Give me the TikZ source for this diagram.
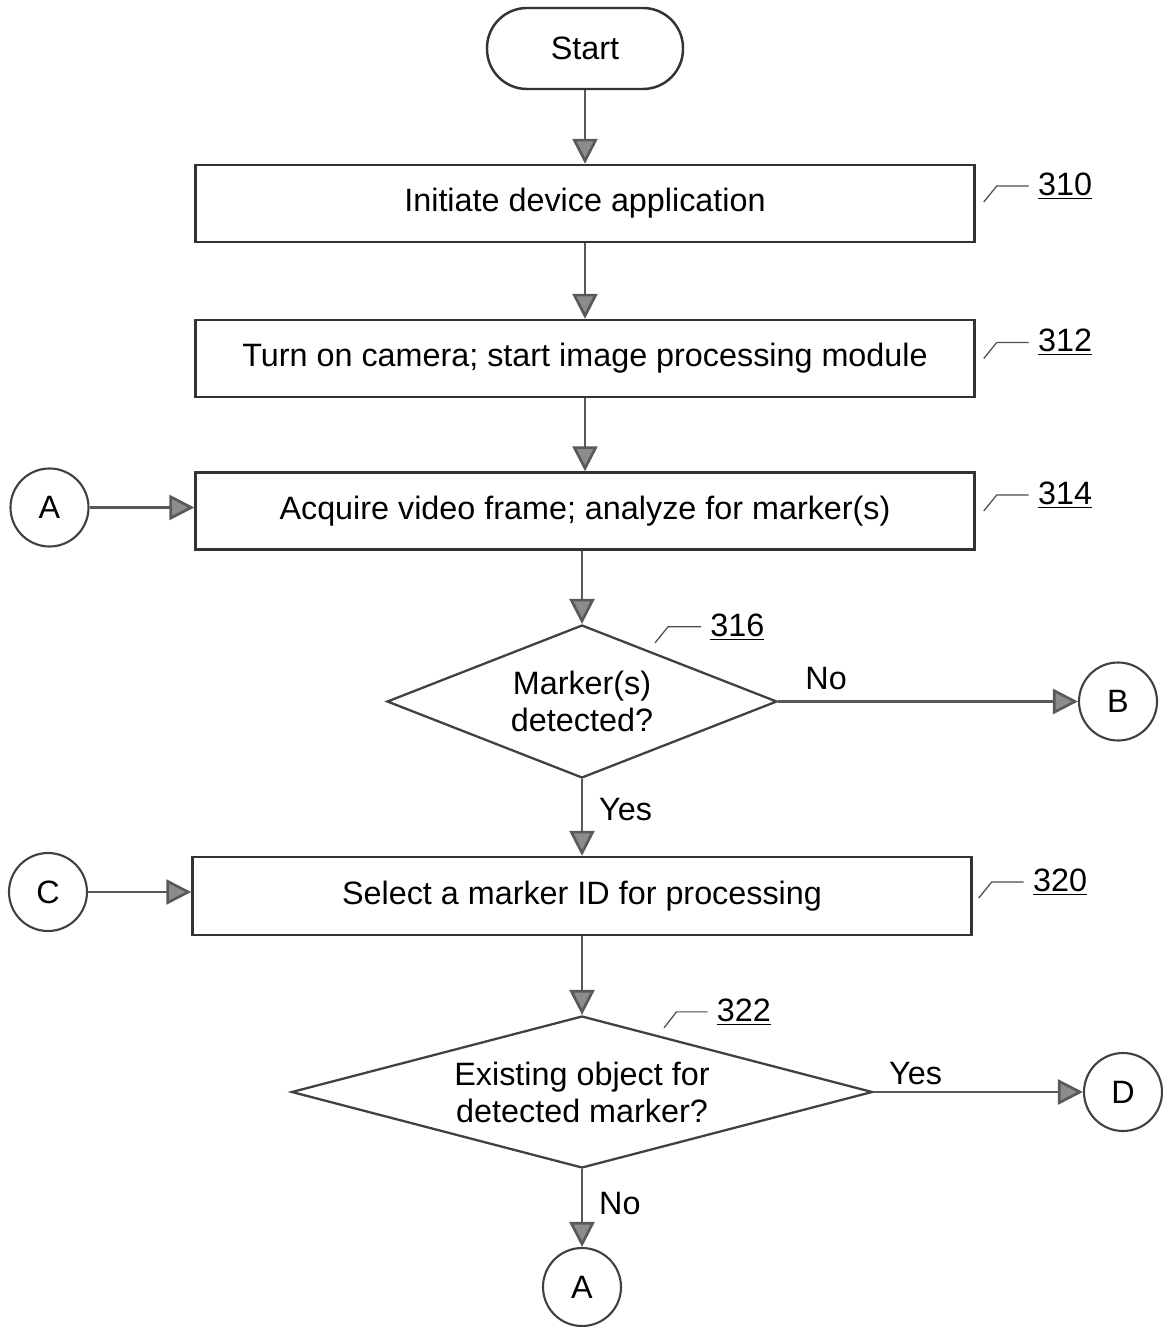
\documentclass[tikz,border=0pt]{standalone}
\usepackage{fontspec}
\setmainfont{Liberation Sans}
\usetikzlibrary{arrows.meta,shapes.geometric}
\begin{document}
\begin{tikzpicture}[
        font=\fontsize{18.4}{21}\selectfont,
        box/.style={draw=black!80,line width=1.4pt,minimum width=15.58cm,minimum height=1.54cm,inner sep=0pt},
        decision/.style={diamond,draw=black!75,line width=1.3pt,inner sep=0pt,align=center},
        conn/.style={circle,draw=black!75,line width=1.2pt,minimum size=1.56cm,inner sep=0pt},
        flow/.style={draw=black!65,line width=1.5pt,-{Triangle[length=0.5cm,width=0.5cm,fill=black!45]}},
        leader/.style={draw=black!70,line width=0.7pt},
        num/.style={anchor=west,xshift=0.14cm,inner sep=1pt}
    ]
        \useasboundingbox (0,0) rectangle (23.24,-26.54);
        \node[draw=black!80,line width=1.4pt,rounded corners=0.8cm,minimum width=3.92cm,minimum height=1.62cm] (start) at (11.70,-0.97) {Start};
        \node[box] (b310) at (11.70,-4.07) {Initiate device application};
        \node[box] (b312) at (11.70,-7.17) {Turn on camera; start image processing module};
        \node[box] (b314) at (11.70,-10.22) {Acquire video frame; analyze for marker(s)};
        \node[decision,aspect=2.55,minimum width=7.8cm,minimum height=3.06cm] (d316) at (11.64,-14.03) {Marker(s)\\detected?};
        \node[box,minimum height=1.56cm] (b320) at (11.64,-17.92) {Select a marker ID for processing};
        \node[decision,aspect=3.8,minimum width=11.62cm,minimum height=3.04cm] (d322) at (11.64,-21.84) {Existing object for\\detected marker?};
        \node[conn] (A1) at (0.99,-10.15) {A};
        \node[conn] (B) at (22.36,-14.03) {B};
        \node[conn] (C) at (0.96,-17.84) {C};
        \node[conn] (D) at (22.46,-21.84) {D};
        \node[conn] (A2) at (11.64,-25.74) {A};
        \draw[flow] (start) -- (b310);
        \draw[flow] (b310) -- (b312);
        \draw[flow] (b312) -- (b314);
        \draw[flow] (b314.south -| d316.north) -- (d316.north);
        \draw[flow] (d316) -- node[pos=0.4,right,xshift=0.2cm] (yes316) {Yes} (b320);
        \draw[flow] (d316) -- node[pos=0.16,above,yshift=0.1cm] (no316) {No} (B);
        \draw[flow] (b320) -- (d322);
        \draw[flow] (d322) -- node[pos=0.2,above] (yes322) {Yes} (D);
        \draw[flow] (d322) -- node[midway,right,xshift=0.2cm,yshift=0.1cm] (no322) {No} (A2);
        \draw[flow] (A1.east) -- (A1.east -| b314.west);
        \draw[flow] (C.east) -- (C.east -| b320.west);
        \draw[leader] (b310.east) ++(0.16,0.03) -- ++(0.26,0.32) -- ++(0.64,0) node[num] (n310) {\underline{310}};
        \draw[leader] (b312.east) ++(0.16,0) -- ++(0.26,0.32) -- ++(0.64,0) node[num] (n312) {\underline{312}};
        \draw[leader] (b314.east) ++(0.16,0) -- ++(0.26,0.32) -- ++(0.64,0) node[num] (n314) {\underline{314}};
        \draw[leader] (d316.north) ++(1.46,-0.38) -- ++(0.26,0.32) -- ++(0.66,0) node[num] (n316) {\underline{316}};
        \draw[leader] (b320.east) ++(0.12,-0.04) -- ++(0.26,0.32) -- ++(0.64,0) node[num] (n320) {\underline{320}};
        \draw[leader] (d322.north) ++(1.64,-0.26) -- ++(0.25,0.32) -- ++(0.62,0) node[num] (n322) {\underline{322}};
    \end{tikzpicture}
\end{document}
